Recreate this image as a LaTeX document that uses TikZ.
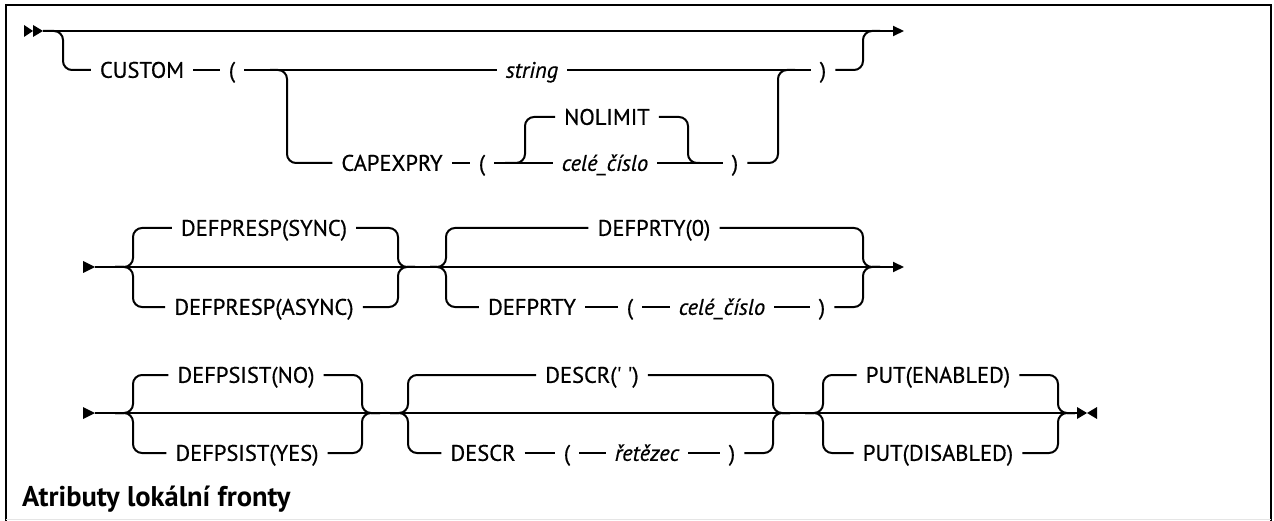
\documentclass[tikz,border=0pt]{standalone}
\usepackage{fontspec}
\setmainfont{PT Sans}
\newfontfamily\railfam{PT Sans}[FakeBold=0.6]
\usetikzlibrary{arrows.meta}
\newcommand\kwfont{\railfam\fontsize{22.5}{25}\selectfont}
\tikzset{
  rail/.style={line width=2pt, rounded corners=9pt},
  kw/.style={font=\kwfont, inner xsep=9pt, inner ysep=0pt, text height=15.6pt, text depth=0pt},
  var/.style={kw, font=\kwfont\itshape},
  endarrow/.style={-{Triangle[length=11pt,width=10pt]}},
}
\begin{document}
\begin{tikzpicture}[x=1pt, y=-1pt]
  \useasboundingbox (0,0) rectangle (1274,521);
  % Draw the frame
  \draw[line width=2.5pt] (6,521) -- (6,5) -- (1271,5) -- (1271,521);
  \draw[black!10, line width=1pt] (6,519.5) -- (1271,519.5);

  % Row 1: CUSTOM
  \fill (24,25) -- (33,31) -- (24,37) -- cycle;
  \fill (33,25) -- (43,31) -- (33,37) -- cycle;
  \coordinate (s1) at (43,31);
  \coordinate (e1) at (904,31);
  \node[kw] (custom) at (142,70) {CUSTOM};
  \node[kw] (lp1) at (232,70) {(};
  \node[var] (string) at (532,70) {string};
  \node[kw] (rp1) at (823,70) {)};
  \node[kw] (capexpry) at (392,163) {CAPEXPRY};
  \node[kw] (lp2) at (482,163) {(};
  \node[kw] (nolimit) at (607,117) {NOLIMIT};
  \node[var] (cislo1) at (605,163) {celé\_číslo};
  \node[kw] (rp2) at (735,163) {)};
  \draw[rail, endarrow] (s1) -- (e1);
  \draw[rail] (s1) -| (63,70) -- (custom);
  \draw[rail] (custom) -- (lp1);
  \draw[rail] (lp1) -- (string);
  \draw[rail] (string) -- (rp1);
  \draw[rail] (rp1) -| (863,31) -- (880,31);
  \draw[rail] (270,70) -| (287,163) -- (capexpry);
  \draw[rail] (capexpry) -- (lp2);
  \draw[rail] (lp2) -- (cislo1);
  \draw[rail] (505,163) -| (525,117) -- (nolimit);
  \draw[rail] (nolimit) -| (688,163) -- (700,163);
  \draw[rail] (cislo1) -- (rp2);
  \draw[rail] (rp2) -| (778,70) -- (795,70);

  % Row 2: DEFPRESP, DEFPRTY
  \fill (83,261) -- (95,267) -- (83,273) -- cycle;
  \coordinate (s2) at (95,267);
  \coordinate (e2) at (904,267);
  \node[kw] (sync) at (264,228) {DEFPRESP(SYNC)};
  \node[kw] (async) at (264,307) {DEFPRESP(ASYNC)};
  \node[kw] (prty0) at (654,228) {DEFPRTY(0)};
  \node[kw] (prty) at (532,307) {DEFPRTY};
  \node[kw] (lp3) at (630,307) {(};
  \node[var] (cislo2) at (722,307) {celé\_číslo};
  \node[kw] (rp3) at (822,307) {)};
  \draw[rail, endarrow] (s2) -- (e2);
  \draw[rail] (115,267) -| (133,228) -- (sync);
  \draw[rail] (115,267) -| (133,307) -- (async);
  \draw[rail] (sync) -| (398,267) -- (415,267);
  \draw[rail] (async) -| (398,267) -- (415,267);
  \draw[rail] (430,267) -| (446,228) -- (prty0);
  \draw[rail] (430,267) -| (446,307) -- (prty);
  \draw[rail] (prty) -- (lp3);
  \draw[rail] (lp3) -- (cislo2);
  \draw[rail] (cislo2) -- (rp3);
  \draw[rail] (prty0) -| (863,267) -- (880,267);
  \draw[rail] (rp3) -| (863,267) -- (880,267);

  % Row 3: DEFPSIST, DESCR, PUT
  \fill (83,407) -- (95,413) -- (83,419) -- cycle;
  \coordinate (s3) at (95,413);
  \coordinate (e3) at (1077,413);
  \node[kw] (psno) at (246,375) {DEFPSIST(NO)};
  \node[kw] (psyes) at (247,453) {DEFPSIST(YES)};
  \node[kw] (descr0) at (592,375) {DESCR(\textquotesingle\ \textquotesingle)};
  \node[kw] (descr) at (483,453) {DESCR};
  \node[kw] (lp4) at (567,453) {(};
  \node[var] (retezec) at (647,453) {řetězec};
  \node[kw] (rp4) at (732,453) {)};
  \node[kw] (puten) at (938,375) {PUT(ENABLED)};
  \node[kw] (putdis) at (938,453) {PUT(DISABLED)};
  \draw[rail] (s3) -- (e3);
  \draw[rail] (115,413) -| (133,375) -- (psno);
  \draw[rail] (115,413) -| (133,453) -- (psyes);
  \draw[rail] (psno) -| (362,413) -- (380,413);
  \draw[rail] (psyes) -| (362,413) -- (380,413);
  \draw[rail] (390,413) -| (408,375) -- (descr0);
  \draw[rail] (390,413) -| (408,453) -- (descr);
  \draw[rail] (descr) -- (lp4);
  \draw[rail] (lp4) -- (retezec);
  \draw[rail] (retezec) -- (rp4);
  \draw[rail] (descr0) -| (773,413) -- (790,413);
  \draw[rail] (rp4) -| (773,413) -- (790,413);
  \draw[rail] (805,413) -| (823,375) -- (puten);
  \draw[rail] (805,413) -| (823,453) -- (putdis);
  \draw[rail] (puten) -| (1058,413) -- (1075,413);
  \draw[rail] (putdis) -| (1058,413) -- (1075,413);
  \fill (1077,407) -- (1087,413) -- (1077,419) -- cycle;
  \fill (1097,407) -- (1087,413) -- (1097,419) -- cycle;

  % Title
  \node[anchor=base west, inner sep=0pt, font=\fontsize{28.5}{32}\selectfont\bfseries] (title) at (22,506) {Atributy lokální fronty};
\end{tikzpicture}
\end{document}
